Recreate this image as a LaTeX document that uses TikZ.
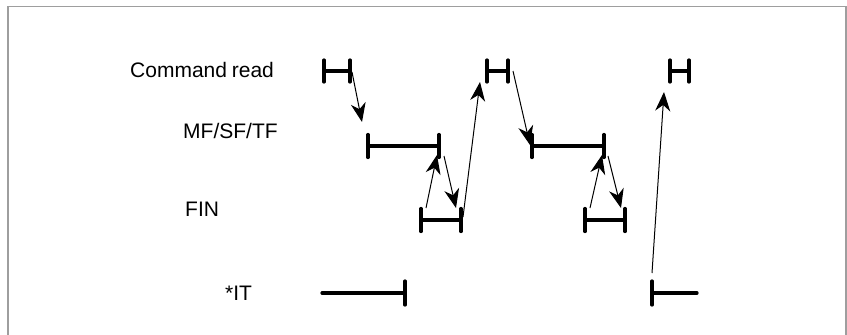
\documentclass[tikz,border=0pt]{standalone}
\usepackage{fontspec}
\setmainfont{Liberation Sans}
\usetikzlibrary{arrows.meta}
\begin{document}
\begin{tikzpicture}[x=1pt,y=-1pt,
  bar/.style={line width=3.2pt,line cap=round},
  sig/.style={line width=1pt,-{Stealth[length=19pt,width=15pt,inset=6pt]}},
  lbl/.style={anchor=base west,inner sep=0pt,font=\fontsize{21}{25}\selectfont},
  frame/.style={draw=black!38,line width=1.8pt}]
\useasboundingbox (0,0) rectangle (847,335);
\draw[frame] (8,340) -- (8,6.5) -- (846,6.5) -- (846,340);
% labels
\node[lbl] (lcmd) at (130,77) {Command\kern-1pt\ read};
\node[lbl] (lmf) at (183,138) {MF/SF/TF};
\node[lbl] (lfin) at (185,216) {FIN};
\node[lbl] (lit) at (225,300) {*IT};
% bar end coordinates
\foreach \n/\xa/\xb/\y/\h in {c1/324/350/71/11, c2/487/508/71/11, c3/670/689/71/11,
  m1/368/439/146/11.5, m2/532/604/146/11.5,
  f1/421/461/220/11.5, f2/585/625/220/11.5}{
  \coordinate (\n a) at (\xa,\y);
  \coordinate (\n b) at (\xb,\y);
  \draw[bar] (\n a) -- (\n b);
  \draw[bar] ([yshift=-\h pt]\n a) -- ([yshift=\h pt]\n a);
  \draw[bar] ([yshift=-\h pt]\n b) -- ([yshift=\h pt]\n b);
}
\coordinate (i1a) at (322,293);
\coordinate (i1b) at (405,293);
\coordinate (i2a) at (652,293);
\coordinate (i2b) at (697,293);
\draw[bar] (i1a) -- (i1b);
\draw[bar] ([yshift=-12pt]i1b) -- ([yshift=12pt]i1b);
\draw[bar] (i2a) -- (i2b);
\draw[bar] ([yshift=-12pt]i2a) -- ([yshift=12pt]i2a);
% arrow end points
\coordinate (a1s) at (352,72);  \coordinate (a1e) at (362,122);
\coordinate (a2s) at (426,208); \coordinate (a2e) at (437,155);
\coordinate (a3s) at (444,156); \coordinate (a3e) at (456,208);
\coordinate (a4s) at (463,217); \coordinate (a4e) at (480,82);
\coordinate (a5s) at (513,71);  \coordinate (a5e) at (530,145);
\coordinate (a6s) at (590,208); \coordinate (a6e) at (602,155);
\coordinate (a7s) at (608,156); \coordinate (a7e) at (621,208);
\coordinate (a8s) at (652,273); \coordinate (a8e) at (664,92);
\foreach \k in {1,...,8}{\draw[sig] (a\k s) -- (a\k e);}
\end{tikzpicture}
\end{document}
